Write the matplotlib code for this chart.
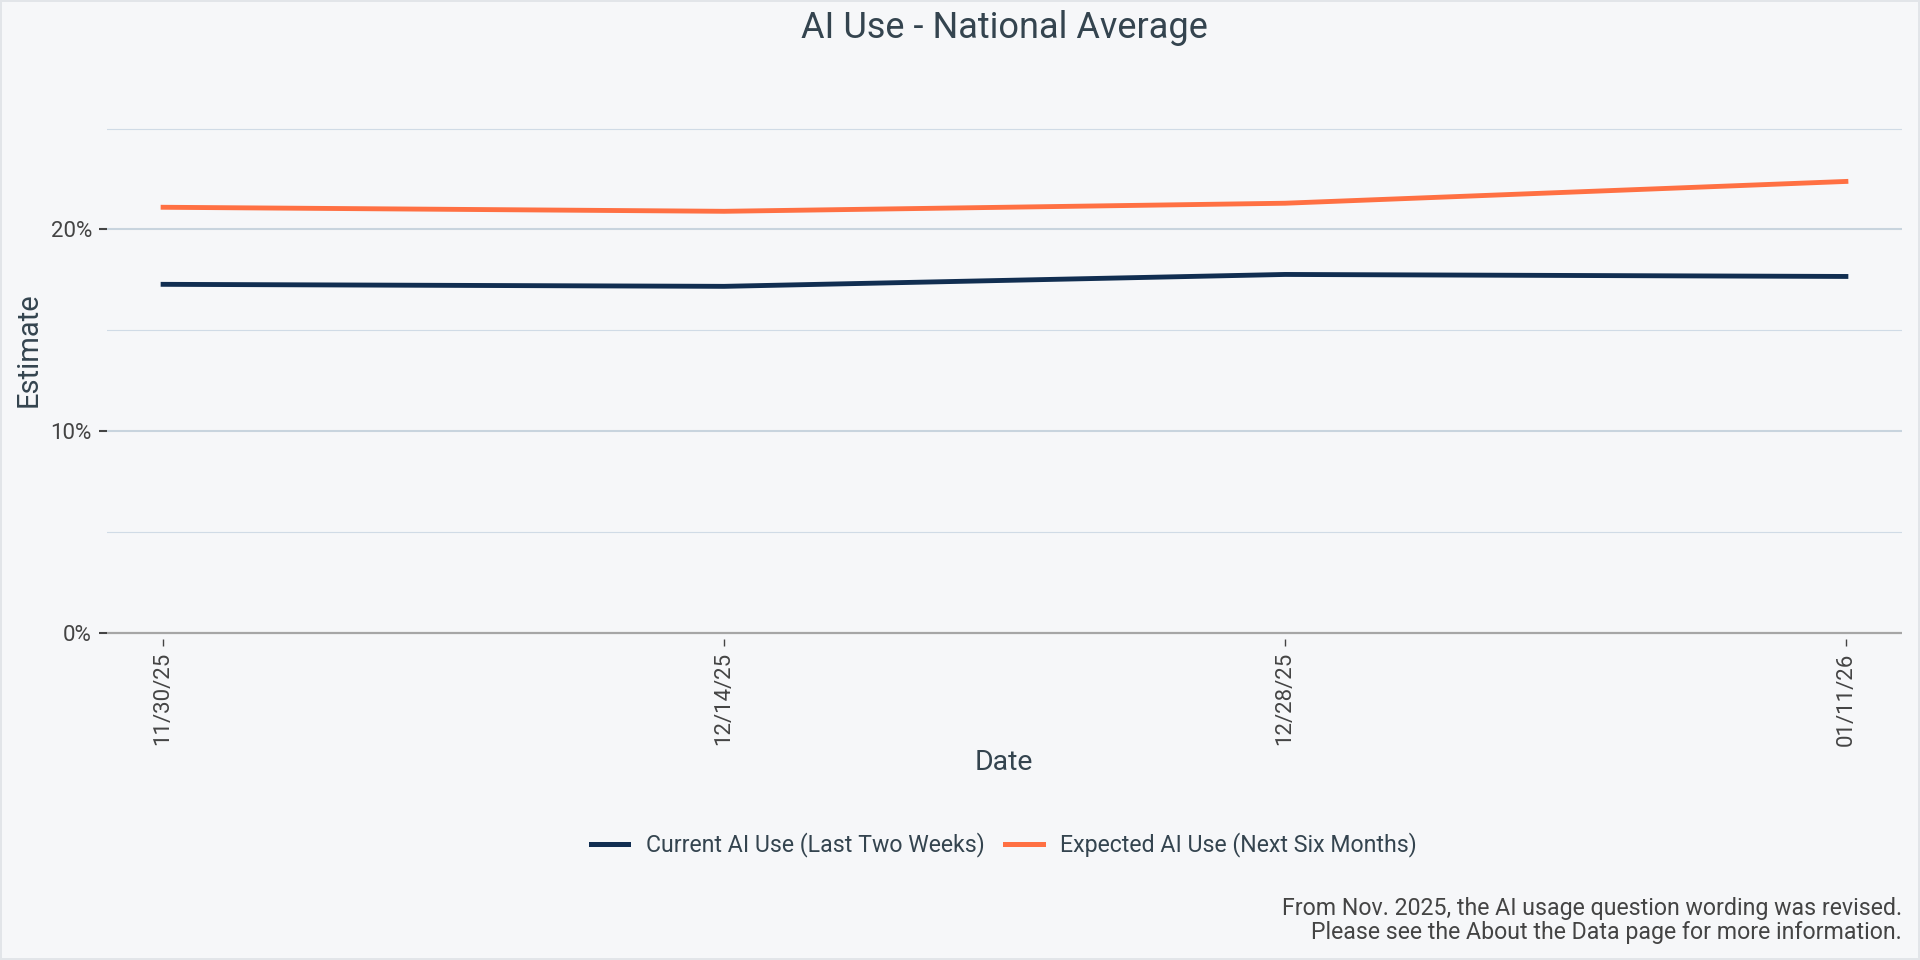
import matplotlib
matplotlib.use('Agg')
import pandas as pd
import matplotlib.pyplot as plt
from matplotlib.ticker import FixedLocator, FuncFormatter

plt.rcParams['font.family'] = ['Roboto', 'DejaVu Sans']

# data (percent)
dates = pd.to_datetime(['2025-11-30', '2025-12-14', '2025-12-28', '2026-01-11'])
current_use = [17.28, 17.18, 17.77, 17.67]
expected_use = [21.10, 20.90, 21.30, 22.38]
series_names = ['Current AI Use (Last Two Weeks)', 'Expected AI Use (Next Six Months)']
tick_labels = ['11/30/25', '12/14/25', '12/28/25', '01/11/26']
note_lines = ['From Nov. 2025, the AI usage question wording was revised.',
              'Please see the About the Data page for more information.']

bg = '#f6f7f9'
txt = '#34444f'
tick_col = '#444444'
blue = '#112e51'
orange = '#ff7043'

W, H = 1920, 960
fig = plt.figure(figsize=(19.2, 9.6), dpi=100)
fig.patch.set_facecolor(bg)
fig.patch.set_edgecolor('#e2e5e9')
fig.patch.set_linewidth(1.5)

# plot area in pixels: left 107, right 1902, top 61, bottom 639
ax = fig.add_axes([107 / W, (H - 639) / H, (1902 - 107) / W, (639 - 61) / H])
ax.set_facecolor(bg)
for s in ax.spines.values():
    s.set_visible(False)

ax.plot(dates, current_use, color=blue, lw=3.5, label=series_names[0], zorder=3)
ax.plot(dates, expected_use, color=orange, lw=3.5, label=series_names[1], zorder=3)

pad = pd.Timedelta(days=1.4)
ax.set_xlim(dates[0] - pad, dates[-1] + pad)
ax.set_ylim(-0.30, 28.35)

# gridlines
for v in [5, 15, 25]:
    ax.axhline(v, color='#d0dbe6', lw=0.8, zorder=1)
for v in [10, 20]:
    ax.axhline(v, color='#c8d4de', lw=1.5, zorder=1)
ax.axhline(0, color='#a6a6a6', lw=1.6, zorder=2)

ax.yaxis.set_major_locator(FixedLocator([0, 10, 20]))
ax.yaxis.set_major_formatter(FuncFormatter(lambda v, p: f'{v:.0f}%'))
ax.tick_params(axis='y', length=5.8, width=1.5, color=tick_col, pad=5,
               labelsize=16, labelcolor=tick_col)

ax.set_xticks(dates)
ax.set_xticklabels(tick_labels, rotation=90)
ax.tick_params(axis='x', length=5, width=1.0, color=tick_col, pad=4.5,
               labelsize=16, labelcolor=tick_col)

ax.set_ylabel('Estimate', fontsize=21, color=txt, labelpad=6)
fig.text(1004 / W, 1 - 762 / H, 'Date', fontsize=20.5, color=txt,
         ha='center', va='center')
fig.text(1004 / W, 1 - 28 / H, 'AI Use - National Average', fontsize=26,
         color=txt, ha='center', va='center')

fig.legend(loc='center', bbox_to_anchor=(1004 / W, 1 - 845 / H), ncol=2,
           frameon=False, fontsize=16.7, handlelength=1.6, handletextpad=0.76,
           columnspacing=0.9, labelcolor=txt, handleheight=0.7)
for lh in fig.legends[0].get_lines():
    lh.set_linewidth(3.6)

fig.text(1902 / W, 1 - 909 / H, note_lines[0], fontsize=16.7, color=tick_col,
         ha='right', va='center')
fig.text(1902 / W, 1 - 933 / H, note_lines[1], fontsize=16.7, color=tick_col,
         ha='right', va='center')

fig.savefig('out.png', dpi=100, facecolor=bg, edgecolor=fig.patch.get_edgecolor())
